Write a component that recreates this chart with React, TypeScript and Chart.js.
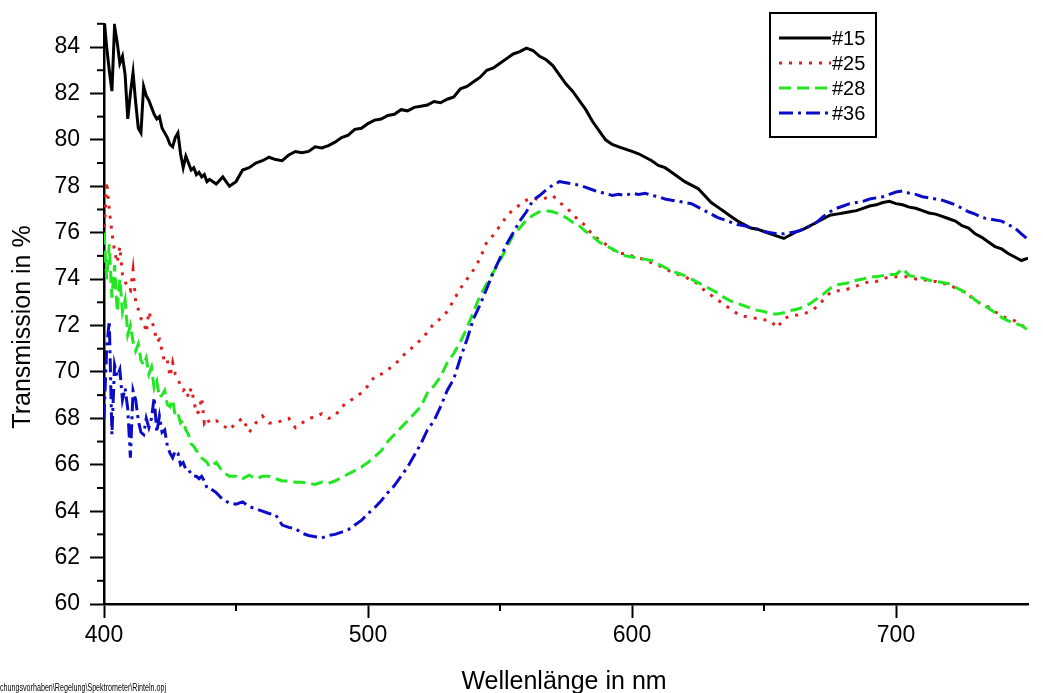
import React, { useEffect, useRef } from 'react';
import { Chart, registerables } from 'chart.js';

Chart.register(...registerables);

const FONT = "Arial, 'Liberation Sans', Helvetica, sans-serif";

// Sampling grid of the spectra (nm): 1 nm steps 400-440, then 2.5 nm steps to 750
const GRID_FINE = Array.from({ length: 41 }, (_, i) => 400 + i);
const GRID_COARSE = Array.from({ length: 124 }, (_, i) => 442.5 + i * 2.5);
const WAVELENGTHS = [...GRID_FINE, ...GRID_COARSE];

const SERIES_NAMES = ['#15', '#25', '#28', '#36'];

const S15 = [
  85.3, 84.0, 83.0, 82.1, 84.9, 84.2, 83.3, 83.6, 82.8, 80.9,
  82.0, 82.9, 81.6, 80.5, 80.3, 82.3, 81.9, 81.7, 81.4, 81.1,
  80.9, 81.0, 80.5, 80.3, 80.1, 79.8, 79.7, 80.1, 80.3, 79.4,
  78.8, 79.3, 79.0, 78.7, 78.8, 78.5, 78.6, 78.4, 78.5, 78.2,
  78.3,
  78.1, 78.4, 78.0, 78.2, 78.7, 78.8, 79.0, 79.1, 79.25, 79.15,
  79.1, 79.35, 79.5, 79.45, 79.5, 79.7, 79.65, 79.75, 79.9, 80.1,
  80.2, 80.45, 80.5, 80.7, 80.85, 80.9, 81.05, 81.1, 81.3, 81.25,
  81.4, 81.45, 81.5, 81.65, 81.6, 81.75, 81.85, 82.2, 82.3, 82.5,
  82.7, 83.0, 83.1, 83.3, 83.5, 83.7, 83.8, 83.95, 83.85, 83.6,
  83.45, 83.2, 82.8, 82.4, 82.1, 81.7, 81.3, 80.8, 80.4, 80.0,
  79.8, 79.7, 79.6, 79.5, 79.4, 79.25, 79.1, 78.9, 78.8, 78.6,
  78.4, 78.2, 78.05, 77.9, 77.6, 77.3, 77.1, 76.9, 76.7, 76.5,
  76.35, 76.2, 76.15, 76.05, 75.95, 75.85, 75.75, 75.9, 76.05, 76.15,
  76.3, 76.45, 76.6, 76.75, 76.8, 76.85, 76.9, 76.95, 77.05, 77.15,
  77.2, 77.3, 77.35, 77.25, 77.2, 77.1, 77.05, 76.95, 76.85, 76.8,
  76.7, 76.6, 76.5, 76.3, 76.2, 75.95, 75.8, 75.6, 75.4, 75.3,
  75.1, 74.95, 74.8, 74.9,
];

const S25 = [
  75.8, 78.2, 77.0, 76.0, 75.2, 74.7, 75.4, 74.2, 73.9, 73.6,
  73.5, 74.4, 73.0, 72.7, 72.3, 72.2, 71.7, 72.6, 72.2, 71.9,
  71.3, 71.4, 70.9, 70.4, 70.5, 69.8, 70.4, 69.9, 69.7, 69.4,
  69.2, 69.3, 68.9, 69.3, 68.8, 68.2, 68.3, 68.9, 67.8, 68.0,
  67.8,
  67.9, 67.7, 67.5, 67.8, 68.0, 67.4, 67.8, 68.1, 67.8, 67.8,
  67.9, 68.0, 67.6, 67.8, 68.0, 68.05, 68.2, 68.0, 68.1, 68.5,
  68.7, 68.9, 69.1, 69.4, 69.8, 69.9, 70.1, 70.3, 70.6, 70.9,
  71.1, 71.4, 71.7, 72.1, 72.3, 72.6, 73.1, 73.6, 74.0, 74.4,
  74.9, 75.6, 75.9, 76.3, 76.7, 77.0, 77.2, 77.4, 77.5, 77.4,
  77.5, 77.6, 77.3, 77.1, 76.8, 76.5, 76.3, 75.9, 75.7, 75.5,
  75.3, 75.1, 75.1, 75.0, 74.9, 74.85, 74.7, 74.6, 74.45, 74.3,
  74.2, 74.1, 73.95, 73.8, 73.5, 73.3, 73.1, 72.9, 72.7, 72.5,
  72.4, 72.35, 72.3, 72.25, 72.2, 71.9, 72.3, 72.4, 72.45, 72.5,
  72.6, 72.8, 73.1, 73.4, 73.5, 73.5, 73.6, 73.7, 73.8, 73.9,
  73.9, 74.0, 74.1, 74.1, 74.1, 74.1, 74.0, 74.0, 73.9, 73.9,
  73.8, 73.8, 73.6, 73.5, 73.3, 73.1, 72.9, 72.8, 72.6, 72.4,
  72.3, 72.2, 72.0, 71.9,
];

const S28 = [
  76.0, 74.0, 75.5, 73.2, 74.6, 72.6, 74.0, 72.6, 73.1, 71.6,
  72.0, 71.3, 70.9, 71.2, 70.5, 70.3, 70.6, 69.9, 70.2, 69.3,
  69.6, 68.9, 69.0, 69.2, 68.6, 68.5, 68.8, 68.1, 68.2, 67.8,
  67.9, 67.5, 67.3, 66.9, 66.8, 66.6, 66.5, 66.3, 66.2, 66.1,
  65.9,
  66.1, 65.7, 65.5, 65.5, 65.4, 65.55, 65.4, 65.5, 65.5, 65.4,
  65.3, 65.3, 65.25, 65.25, 65.2, 65.15, 65.25, 65.2, 65.3, 65.45,
  65.6, 65.75, 65.9, 66.1, 66.35, 66.6, 67.0, 67.3, 67.6, 67.9,
  68.2, 68.5, 69.1, 69.4, 69.8, 70.4, 70.8, 71.3, 71.9, 72.6,
  73.3, 73.8, 74.3, 74.8, 75.35, 75.9, 76.2, 76.55, 76.75, 76.9,
  76.95, 76.9, 76.8, 76.65, 76.45, 76.3, 76.05, 75.85, 75.6, 75.45,
  75.3, 75.15, 75.0, 74.95, 74.9, 74.85, 74.8, 74.65, 74.5, 74.35,
  74.25, 74.15, 74.0, 73.85, 73.7, 73.55, 73.4, 73.2, 73.05, 72.95,
  72.85, 72.75, 72.65, 72.6, 72.5, 72.5, 72.55, 72.65, 72.7, 72.8,
  72.95, 73.15, 73.35, 73.6, 73.75, 73.8, 73.85, 73.95, 74.0, 74.1,
  74.1, 74.15, 74.2, 74.2, 74.45, 74.15, 74.1, 74.05, 73.95, 73.9,
  73.85, 73.8, 73.65, 73.5, 73.35, 73.1, 72.9, 72.75, 72.55, 72.35,
  72.2, 72.1, 72.0, 71.8,
];

const S36 = [
  68.0, 71.0, 72.2, 67.3, 70.3, 69.8, 70.1, 68.8, 69.3, 68.4,
  66.3, 69.2, 68.8, 67.9, 67.4, 67.3, 68.0, 67.6, 68.0, 68.9,
  67.4, 68.1, 67.4, 67.5, 66.8, 66.5, 66.3, 66.6, 66.5, 66.0,
  66.1, 65.8, 65.8, 65.6, 65.5, 65.5, 65.4, 65.5, 65.3, 65.0,
  65.0,
  64.8, 64.5, 64.35, 64.3, 64.4, 64.2, 64.1, 64.0, 63.9, 63.85,
  63.4, 63.3, 63.25, 63.05, 62.95, 62.9, 62.85, 62.95, 63.0, 63.1,
  63.2, 63.4, 63.6, 63.9, 64.15, 64.45, 64.8, 65.1, 65.5, 65.9,
  66.4, 66.9, 67.5, 67.9, 68.5, 69.2, 69.7, 70.6, 71.4, 72.3,
  72.9, 73.6, 74.3, 74.9, 75.5, 76.0, 76.5, 76.9, 77.4, 77.6,
  77.85, 78.05, 78.2, 78.15, 78.1, 78.05, 77.95, 77.85, 77.75, 77.7,
  77.6, 77.65, 77.6, 77.7, 77.65, 77.7, 77.6, 77.55, 77.45, 77.4,
  77.35, 77.3, 77.25, 77.1, 76.95, 76.8, 76.65, 76.55, 76.45, 76.35,
  76.3, 76.2, 76.15, 76.05, 76.0, 75.95, 75.95, 76.0, 76.05, 76.15,
  76.3, 76.45, 76.7, 76.9, 77.05, 77.15, 77.25, 77.3, 77.35, 77.45,
  77.5, 77.55, 77.65, 77.75, 77.8, 77.7, 77.65, 77.55, 77.5, 77.45,
  77.4, 77.3, 77.2, 77.05, 76.9, 76.8, 76.65, 76.6, 76.55, 76.5,
  76.35, 76.2, 75.95, 75.7,
];

const SERIES_VALUES = [S15, S25, S28, S36];
const SERIES_COLORS = ['#000000', '#e01e1e', '#22e622', '#0c0cc8'];
const SERIES_DASHES = [[], [3, 7], [12, 6], [14, 5, 3, 5]];
const SERIES_WIDTHS = [3, 3, 3, 3];

const Y_MINOR = [61, 63, 65, 67, 69, 71, 73, 75, 77, 79, 81, 83, 85];
const X_MINOR = [450, 550, 650];

const X_TITLE = 'Wellenlänge in nm';
const Y_TITLE = 'Transmission in %';
const FILE_PATH = 'chungsvorhaben\\Regelung\\Spektrometer\\Rinteln.opj';

const extrasPlugin = {
  id: 'extras',
  afterDraw(chart: any) {
    const { ctx, chartArea, scales } = chart;
    const x = scales.x;
    const y = scales.y;
    ctx.save();
    // minor ticks
    ctx.strokeStyle = '#000';
    ctx.lineWidth = 2;
    ctx.setLineDash([]);
    Y_MINOR.forEach((v) => {
      const py = y.getPixelForValue(v);
      ctx.beginPath();
      ctx.moveTo(chartArea.left - 7, py);
      ctx.lineTo(chartArea.left, py);
      ctx.stroke();
    });
    X_MINOR.forEach((v) => {
      const px = x.getPixelForValue(v);
      ctx.beginPath();
      ctx.moveTo(px, chartArea.bottom);
      ctx.lineTo(px, chartArea.bottom + 7);
      ctx.stroke();
    });

    // legend
    const lx = 770, ly = 13, lw = 106, lh = 124;
    ctx.fillStyle = '#fff';
    ctx.fillRect(lx, ly, lw, lh);
    ctx.lineWidth = 2;
    ctx.strokeStyle = '#000';
    ctx.strokeRect(lx, ly, lw, lh);
    SERIES_NAMES.forEach((name, i) => {
      const rowY = 38 + i * 25;
      ctx.save();
      ctx.strokeStyle = SERIES_COLORS[i];
      ctx.lineWidth = 3;
      ctx.setLineDash(SERIES_DASHES[i]);
      ctx.beginPath();
      ctx.moveTo(779, rowY);
      ctx.lineTo(831, rowY);
      ctx.stroke();
      ctx.restore();
      ctx.fillStyle = '#000';
      ctx.font = `20px ${FONT}`;
      ctx.textAlign = 'left';
      ctx.textBaseline = 'middle';
      ctx.fillText(name, 832, rowY + 1);
    });

    // axis titles
    ctx.fillStyle = '#000';
    ctx.font = `25px ${FONT}`;
    ctx.textAlign = 'center';
    ctx.textBaseline = 'middle';
    ctx.fillText(X_TITLE, 564, 682);
    ctx.save();
    ctx.translate(23, 327);
    ctx.rotate(-Math.PI / 2);
    ctx.fillText(Y_TITLE, 0, 0);
    ctx.restore();

    // file path note
    ctx.font = `11px ${FONT}`;
    ctx.textAlign = 'left';
    ctx.textBaseline = 'alphabetic';
    ctx.fillText(FILE_PATH, 0, 691, 166);
    ctx.restore();
  },
};

export default function App() {
  const canvasRef = useRef<HTMLCanvasElement | null>(null);

  useEffect(() => {
    const canvas = canvasRef.current;
    if (!canvas) return;
    const datasets = SERIES_NAMES.map((name, i) => ({
      label: name,
      data: WAVELENGTHS.map((w, j) => ({ x: w, y: SERIES_VALUES[i][j] })),
      borderColor: SERIES_COLORS[i],
      backgroundColor: SERIES_COLORS[i],
      borderWidth: SERIES_WIDTHS[i],
      borderDash: SERIES_DASHES[i],
      pointRadius: 0,
      tension: 0,
      fill: false,
      order: 3 - i,
    }));
    const chart = new Chart(canvas, {
      type: 'line',
      data: { datasets },
      options: {
        responsive: false,
        animation: false,
        devicePixelRatio: 1,
        layout: { padding: { top: 22.75, right: 15, left: 0, bottom: 0 } },
        plugins: { legend: { display: false }, tooltip: { enabled: false } },
        font: { family: FONT },
        scales: {
          x: {
            type: 'linear',
            min: 400,
            max: 750,
            afterFit: (s: any) => { s.height = 89; },
            border: { display: true, color: '#000', width: 2.5 },
            grid: { display: true, drawOnChartArea: false, drawTicks: true, tickLength: 14, tickWidth: 2, tickColor: '#000' },
            ticks: { stepSize: 100, includeBounds: false, color: '#000', padding: 4, maxRotation: 0, font: { family: FONT, size: 23 } },
          },
          y: {
            type: 'linear',
            min: 60,
            max: 85,
            afterFit: (s: any) => { s.width = 104; },
            border: { display: true, color: '#000', width: 2.5 },
            grid: { display: true, drawOnChartArea: false, drawTicks: true, tickLength: 14, tickWidth: 2, tickColor: '#000' },
            ticks: { stepSize: 2, includeBounds: false, color: '#000', padding: 10, font: { family: FONT, size: 23 } },
          },
        },
      },
      plugins: [extrasPlugin],
    } as any);
    return () => chart.destroy();
  }, []);

  return (
    <div style={{ position: 'absolute', left: 0, top: 0, width: 1043, height: 693, background: '#fff' }}>
      <canvas ref={canvasRef} width={1043} height={693} style={{ display: 'block' }} />
    </div>
  );
}
